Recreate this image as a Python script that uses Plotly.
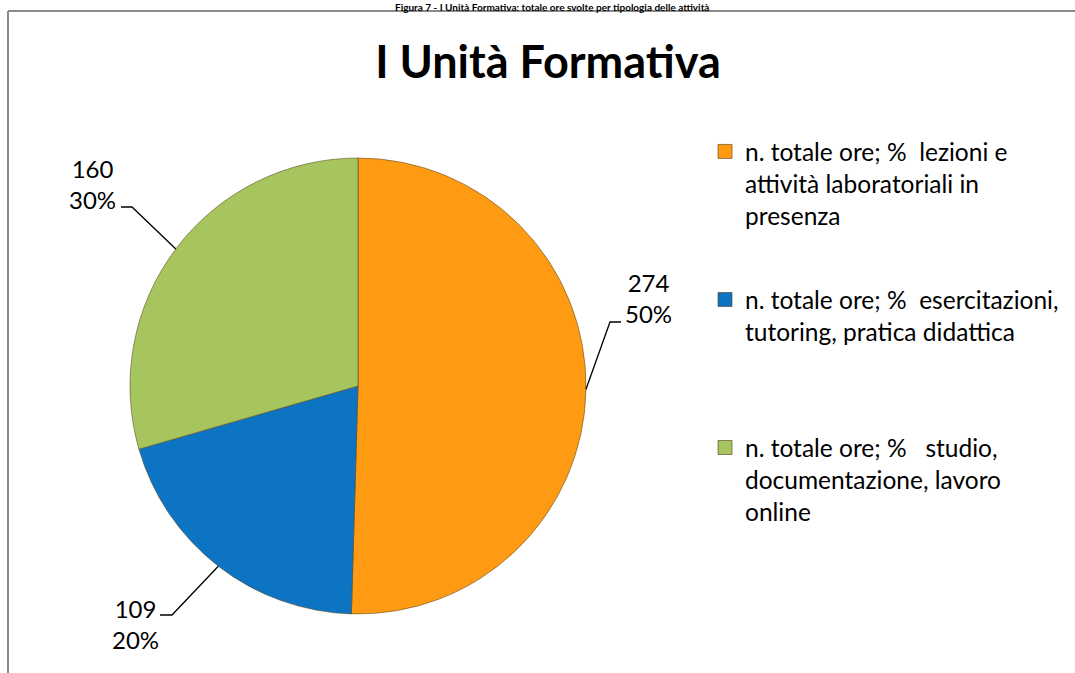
import math
import plotly.graph_objects as go

# ---- data ----
categories = [
    "n. totale ore; %\u00a0\u00a0lezioni e<br>attività laboratoriali in<br>presenza",
    "n. totale ore; %\u00a0\u00a0esercitazioni,<br>tutoring, pratica didattica",
    "n. totale ore; %\u00a0\u00a0\u00a0studio,<br>documentazione, lavoro<br>online",
]
values = [274, 109, 160]
pct_labels = ["50%", "20%", "30%"]
colors = ["#FF9B12", "#0D74C4", "#A6C55F"]

title_text = "I Unità Formativa"
caption_text = "Figura 7 - I Unità Formativa: totale ore svolte per tipologia delle attività"

# ---- layout constants (pixels) ----
W, H = 1075, 673
CX, CY, R = 358, 386, 228
FONT = "Lato, 'Open Sans', sans-serif"
LEG_FS = 24.5
LEG_LINES = 3

# label elbow/end points and label centres (layout positions)
elbows = [(610, 322), (172, 615), (132, 207)]
ends = [(621, 322), (160, 615), (121, 207)]
label_pos = [(648, 298), (135, 624), (93, 184)]


def px(x):
    return x / W


def py(y):
    return 1 - y / H


def pad(name, n):
    k = name.count("<br>") + 1
    return name + "<br>\u00a0" * (n - k)


fig = go.Figure()
fig.add_trace(go.Pie(
    labels=[c.replace("<br>", " ") for c in categories],
    values=values,
    sort=False,
    direction="clockwise",
    rotation=0,
    textinfo="none",
    hoverinfo="label+value+percent",
    marker=dict(colors=colors, line=dict(color="rgba(90,70,30,0.55)", width=1)),
    domain=dict(x=[px(CX - R), px(CX + R)], y=[py(CY + R), py(CY - R)]),
    showlegend=False,
))

# legend entries (one group per category so the spacing can be set)
for i, c in enumerate(categories):
    fig.add_trace(go.Scatter(
        x=[None], y=[None], mode="markers", name=pad(c, LEG_LINES),
        legendgroup=f"g{i}", hoverinfo="skip",
        marker=dict(symbol="square", size=14, color=colors[i],
                    line=dict(color="rgba(80,60,20,0.6)", width=1)),
    ))

# leader lines + labels computed from data angles
total = sum(values)
cum = 0
shapes = []
annotations = []
for i, v in enumerate(values):
    mid = (cum + v / 2) / total
    cum += v
    th = 2 * math.pi * mid
    sx = CX + R * math.sin(th)
    sy = CY - R * math.cos(th)
    ex, ey = elbows[i]
    fx, fy = ends[i]
    shapes.append(dict(type="path", xref="paper", yref="paper",
                       path=f"M{px(sx)},{py(sy)} L{px(ex)},{py(ey)} L{px(fx)},{py(fy)}",
                       line=dict(color="black", width=1.3)))
    lx, ly = label_pos[i]
    annotations.append(dict(xref="paper", yref="paper", x=px(lx), y=py(ly),
                            text=f"{values[i]}<br>{pct_labels[i]}", showarrow=False,
                            xanchor="center", yanchor="middle",
                            font=dict(family=FONT, size=24, color="black")))

# frame (top and left edges visible)
shapes.append(dict(type="line", xref="paper", yref="paper",
                   x0=px(8), x1=px(W + 5), y0=py(11), y1=py(11),
                   line=dict(color="#8a8a8a", width=2)))
shapes.append(dict(type="line", xref="paper", yref="paper",
                   x0=px(8), x1=px(8), y0=py(11), y1=py(H + 5),
                   line=dict(color="#8a8a8a", width=2)))

# caption above the frame
annotations.append(dict(xref="paper", yref="paper", x=px(552), y=1,
                        text=f"<b>{caption_text}</b>", showarrow=False,
                        xanchor="center", yanchor="top", borderpad=0,
                        font=dict(family=FONT, size=10, color="black")))

fig.update_layout(
    width=W, height=H,
    margin=dict(l=0, r=0, t=0, b=0),
    paper_bgcolor="white", plot_bgcolor="white",
    xaxis=dict(visible=False), yaxis=dict(visible=False),
    title=dict(text=f"<b>{title_text}</b>", x=px(548), y=py(62),
               xanchor="center", yanchor="middle",
               font=dict(family=FONT, size=45, color="black")),
    legend=dict(x=px(705), y=py(129), xanchor="left", yanchor="top",
                valign="top", tracegroupgap=49.5,
                font=dict(family=FONT, size=LEG_FS, color="black"),
                bgcolor="rgba(0,0,0,0)", traceorder="grouped"),
    shapes=shapes,
    annotations=annotations,
)

fig.write_html("out.html", config={"displayModeBar": False},
               post_script="document.body.style.margin='0';")
